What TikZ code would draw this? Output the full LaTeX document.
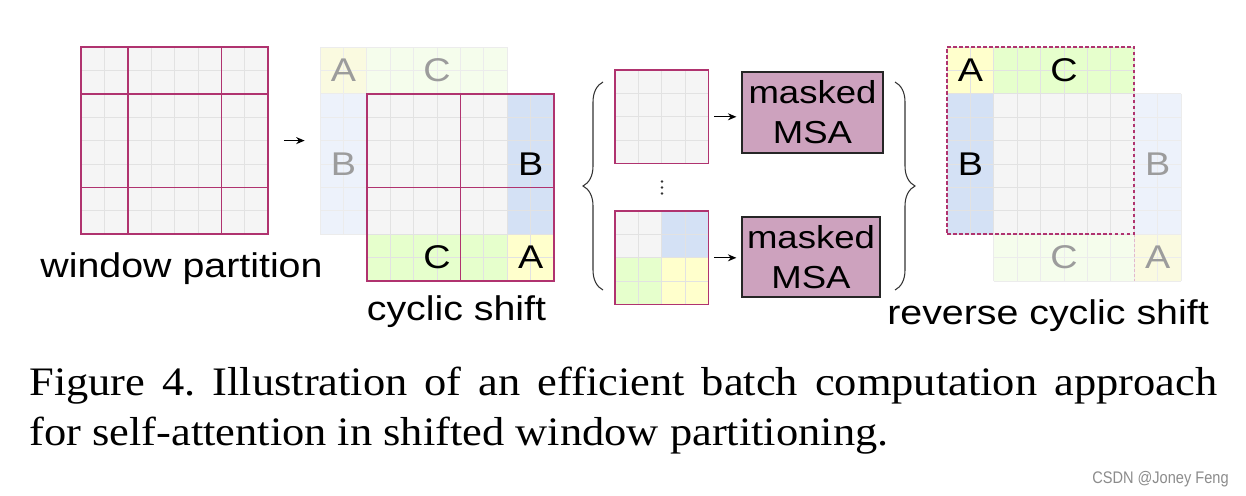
\documentclass[tikz,border=0pt]{standalone}
\usepackage{fontspec}
\setmainfont{Liberation Serif}
\setsansfont{Liberation Sans}
\usepackage{graphicx}
\usetikzlibrary{arrows.meta,decorations.pathreplacing,calc}
\definecolor{cellgray}{HTML}{F5F5F5}
\definecolor{gridc}{HTML}{E2E2E2}
\definecolor{fgrid}{HTML}{ECECEC}
\definecolor{cblue}{HTML}{D4E1F5}
\definecolor{cgreen}{HTML}{E6FFCC}
\definecolor{cyellow}{HTML}{FFFFCC}
\definecolor{fblue}{HTML}{EDF2FB}
\definecolor{fgreen}{HTML}{F5FDEC}
\definecolor{fyellow}{HTML}{FAFAE0}
\definecolor{winred}{HTML}{B0336F}
\definecolor{msa}{HTML}{CDA2BE}
\definecolor{fadetext}{HTML}{9C9C9C}
\definecolor{wmark}{HTML}{8C8C8C}
\newcommand\ys[1]{\scalebox{1}[0.87]{#1}}
\def\cs{23.4}
\newcommand\cellrect[6]{%
  \fill[#5] (#1,#2) rectangle ++({#3*\cs},{#4*\cs});
  \foreach \i in {0,...,#3} \draw[line width=0.55pt,#6] ({#1+\i*\cs},#2) -- ++(0,{#4*\cs});
  \foreach \j in {0,...,#4} \draw[line width=0.55pt,#6] (#1,{#2+\j*\cs}) -- ++({#3*\cs},0);
}
\begin{document}
\begin{tikzpicture}[x=0.02cm,y=-0.02cm,
  win/.style={draw=winred, line width=0.9pt, inner sep=0pt, minimum size=#1*0.02cm},
  zone/.style={inner sep=0pt, minimum size=#1*0.02cm},
  part/.style={draw=winred, line width=0.95pt},
  arr/.style={-{Stealth[length=0.17cm,width=0.14cm]}, line width=0.75pt},
  msabox/.style={draw=black!85, fill=msa, line width=0.7pt, inner sep=0pt,
    minimum width=2.82cm, minimum height=1.62cm,
    font=\sffamily\fontsize{20.8pt}{22.76pt}\selectfont, align=center},
  lab/.style={font=\sffamily\fontsize{21.5pt}{24pt}\selectfont, inner sep=0pt},
  flab/.style={lab, text=fadetext},
  ttl/.style={font=\sffamily\fontsize{22.4pt}{26pt}\selectfont, inner sep=0pt, anchor=base},
  bracestyle/.style={decorate, decoration={brace, amplitude=0.4cm}, line width=0.6pt, draw=black!80},
  captext/.style={font=\fontsize{25.3pt}{30pt}\selectfont, inner sep=0pt, anchor=base west}]
\fill[white] (0,0) rectangle (1246,495);
\useasboundingbox (0,0) rectangle (1246,495);

% ---- window partition
\cellrect{81}{47}{8}{8}{cellgray}{gridc}
\draw[part] (127.8,47) -- (127.8,234.2);
\draw[part] (221.4,47) -- (221.4,234.2);
\draw[part] (81,93.8) -- (268.2,93.8);
\draw[part] (81,187.4) -- (268.2,187.4);
\node[win=187.2] (g1) at (174.6,140.6) {};
\node[ttl] (t1) at (181.5,277) {\ys{window partition}};

% ---- cyclic shift
\cellrect{320}{47}{2}{2}{fyellow}{fgrid}
\cellrect{366.8}{47}{6}{2}{fgreen}{fgrid}
\cellrect{320}{93.8}{2}{6}{fblue}{fgrid}
\node[zone=187.2] (csf) at (413.6,140.6) {};
\cellrect{366.8}{93.8}{6}{6}{cellgray}{gridc}
\cellrect{507.2}{93.8}{2}{6}{cblue}{gridc}
\cellrect{366.8}{234.2}{6}{2}{cgreen}{gridc}
\cellrect{507.2}{234.2}{2}{2}{cyellow}{gridc}
\draw[part] (460.4,93.8) -- (460.4,281);
\draw[part] (366.8,187.4) -- (554,187.4);
\node[win=187.2] (cs) at (460.4,187.4) {};
\node[flab] (csfA) at (343.4,70.4) {\ys{A}};
\node[flab] (csfC) at (437,70.4) {\ys{C}};
\node[flab] (csfB) at (343.4,164) {\ys{B}};
\node[lab] (csB) at (530.6,164) {\ys{B}};
\node[lab] (csC) at (437,257.6) {\ys{C}};
\node[lab] (csA) at (530.6,257.6) {\ys{A}};
\node[ttl] (t2) at (456.5,320) {\ys{cyclic shift}};
\draw[arr, shorten <=0.3cm, shorten >=0.3cm] (g1.east) -- (g1.east -| csf.west);

% ---- batched windows
\draw[bracestyle] (603,290) -- (603,82);
\cellrect{615}{70}{4}{4}{cellgray}{gridc}
\node[win=93.6] (sg1) at (661.8,116.8) {};
\cellrect{615}{211}{2}{2}{cellgray}{gridc}
\cellrect{661.8}{211}{2}{2}{cblue}{gridc}
\cellrect{615}{257.8}{2}{2}{cgreen}{gridc}
\cellrect{661.8}{257.8}{2}{2}{cyellow}{gridc}
\node[win=93.6] (sg2) at (661.8,257.8) {};
\fill[black!80] (662,181.5) circle[radius=0.026cm];
\fill[black!80] (662,187.5) circle[radius=0.026cm];
\fill[black!80] (662,193.5) circle[radius=0.026cm];
\node[msabox] (msa1) at (812.5,112.5) {\ys{masked}\\\ys{MSA}};
\node[msabox, minimum width=2.76cm, minimum height=1.6cm] (msa2) at (811,257) {\ys{masked}\\\ys{MSA}};
\draw[arr, shorten <=0.1cm, shorten >=0.1cm] (sg1.east) -- (sg1.east -| msa1.west);
\draw[arr, shorten <=0.1cm, shorten >=0.1cm] (sg2.east) -- (sg2.east -| msa2.west);
\draw[bracestyle] (895,82) -- (895,290);

% ---- reverse cyclic shift
\cellrect{1134.2}{93.8}{2}{6}{fblue}{fgrid}
\cellrect{993.8}{234.2}{6}{2}{fgreen}{fgrid}
\cellrect{1134.2}{234.2}{2}{2}{fyellow}{fgrid}
\cellrect{947}{47}{2}{2}{cyellow}{gridc}
\cellrect{993.8}{47}{6}{2}{cgreen}{gridc}
\cellrect{947}{93.8}{2}{6}{cblue}{gridc}
\cellrect{993.8}{93.8}{6}{6}{cellgray}{gridc}
\draw[winred!35, line width=0.5pt, dash pattern=on 0.06cm off 0.04cm] (1134.2,234.2) -- (1134.2,281.4);
\node[draw=winred, line width=0.9pt, dash pattern=on 0.07cm off 0.05cm, zone=187.2] (rs) at (1040.6,140.6) {};
\node[lab] (rsA) at (970.4,70.4) {\ys{A}};
\node[lab] (rsC) at (1064,70.4) {\ys{C}};
\node[lab] (rsB) at (970.4,164) {\ys{B}};
\node[flab] (rsfB) at (1157.6,164) {\ys{B}};
\node[flab] (rsfC) at (1064,257.6) {\ys{C}};
\node[flab] (rsfA) at (1157.6,257.6) {\ys{A}};
\node[ttl] (t3) at (1048,324) {\ys{reverse cyclic shift}};

% ---- caption
\node[captext] (cap1) at (29,395) {\frenchspacing\scalebox{1}[0.91]{\makebox[23.76cm][s]{Figure 4. Illustration of an efficient batch computation approach}}};
\node[captext] (cap2) at (29,445) {\frenchspacing\scalebox{1}[0.91]{for self-attention in shifted window partitioning.}};
\node[font=\sffamily\fontsize{8.3pt}{10pt}\selectfont, text=wmark, inner sep=0pt, anchor=base east] (wm) at (1229,483) {\scalebox{1}[1.15]{CSDN @Joney Feng}};
\end{tikzpicture}
\end{document}
